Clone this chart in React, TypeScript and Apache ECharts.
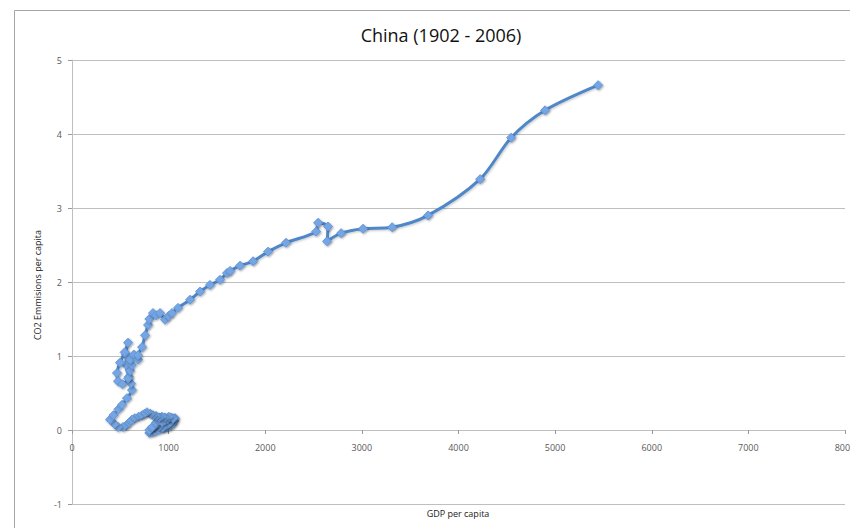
import React, { useEffect, useRef } from "react";
import * as echarts from "echarts";

// GDP per capita (x) and CO2 emissions per capita (y), China 1902 - 2006
const gdpPerCapita: number[] = [
  800, 830, 860, 900, 940, 980, 1010, 1040, 1060, 1066,
  1040, 1010, 980, 950, 932, 900, 880, 850, 820, 800,
  830, 870, 900, 932, 960, 990, 1020, 1045, 1000, 960,
  930, 900, 870, 838, 810, 776, 750, 725, 690, 650,
  621, 590, 560, 528, 476, 440, 393,
  430, 480, 518, 569, 621, 610, 590, 560, 560, 580,
  545, 497, 466, 476, 520, 580, 600, 620, 600, 640,
  683, 683, 725, 756, 787, 800, 838, 870, 911, 963,
  1000, 1035, 1097,
  1222, 1325, 1428, 1532, 1604, 1636, 1739, 1874, 2029, 2215,
  2526, 2547, 2650, 2640, 2785, 3012, 3313, 3685, 4224, 4545,
  4896, 5445,
];
const co2PerCapita: number[] = [
  -0.04, -0.03, -0.02, 0.0, 0.02, 0.03, 0.05, 0.08, 0.12, 0.16,
  0.14, 0.1, 0.06, 0.04, 0.03, 0.05, 0.08, 0.05, 0.02, 0.0,
  0.04, 0.1, 0.13, 0.11, 0.13, 0.15, 0.17, 0.16, 0.18, 0.17,
  0.18, 0.17, 0.19, 0.2, 0.22, 0.24, 0.22, 0.2, 0.18, 0.16,
  0.14, 0.1, 0.06, 0.04, 0.04, 0.08, 0.14,
  0.2, 0.28, 0.34, 0.43, 0.54, 0.63, 0.72, 0.88, 1.02, 1.18,
  1.05, 0.91, 0.77, 0.66, 0.62, 0.7, 0.8, 0.88, 0.95, 1.02,
  0.95, 1.01, 1.12, 1.28, 1.42, 1.5, 1.58, 1.55, 1.58, 1.49,
  1.54, 1.58, 1.65,
  1.76, 1.87, 1.96, 2.03, 2.12, 2.15, 2.22, 2.28, 2.41, 2.53,
  2.68, 2.8, 2.75, 2.55, 2.66, 2.72, 2.74, 2.9, 3.39, 3.95,
  4.32, 4.66,
];

const titleText = "China (1902 - 2006)";
const xAxisName = "GDP per capita";
const yAxisName = "CO2 Emmisions per capita";
const xRange = [0, 8000, 1000];
const yRange = [-1, 5, 1];

const FONT = "'Open Sans', 'Liberation Sans', sans-serif";

export default function App() {
  const ref = useRef<HTMLDivElement>(null);
  useEffect(() => {
    if (!ref.current) return;
    const chart = echarts.init(ref.current, undefined, { renderer: "svg" });
    const points = gdpPerCapita.map((g, i) => [g, co2PerCapita[i]]);
    const gridTop = 60;
    const gridBottom = 24;
    const plotHeight = 528 - gridTop - gridBottom;
    // distance from the bottom of the plot to the value 0
    const zeroOffset = (plotHeight * (0 - yRange[0])) / (yRange[1] - yRange[0]);
    chart.setOption({
      animation: false,
      backgroundColor: "#ffffff",
      grid: {
        left: 72,
        right: 5,
        top: gridTop,
        bottom: gridBottom,
        containLabel: false,
        outerBoundsMode: "none",
      },
      xAxis: {
        type: "value",
        min: xRange[0],
        max: xRange[1],
        interval: xRange[2],
        position: "bottom",
        offset: -zeroOffset,
        axisLine: { show: true, onZero: false, lineStyle: { color: "#bfbfbf", width: 1 } },
        axisTick: { show: true, length: 4, lineStyle: { color: "#9a9a9a" } },
        axisLabel: {
          fontSize: 9,
          color: "#595959",
          margin: 13,
          fontFamily: FONT,
          formatter: (v: number) => String(v),
        },
        splitLine: { show: false },
      },
      yAxis: {
        type: "value",
        min: yRange[0],
        max: yRange[1],
        interval: yRange[2],
        axisLine: { show: true, lineStyle: { color: "#bfbfbf", width: 1 } },
        axisTick: { show: true, length: 4, lineStyle: { color: "#9a9a9a" } },
        axisLabel: {
          fontSize: 9,
          color: "#595959",
          margin: 10,
          fontFamily: FONT,
          formatter: (v: number) => String(v),
        },
        splitLine: { show: true, lineStyle: { color: "#bfbfbf", width: 1 } },
      },
      graphic: [
        {
          type: "polyline",
          silent: true,
          shape: { points: [[14.5, 528], [14.5, 10.5], [850, 10.5]] },
          style: { stroke: "#a6a6a6", fill: "none", lineWidth: 1 },
        },
        {
          type: "text",
          x: 441,
          y: 35,
          style: {
            text: titleText,
            fontSize: 18,
            fontFamily: FONT,
            fill: "#111111",
            align: "center",
            verticalAlign: "middle",
          },
        },
        {
          type: "text",
          x: 458,
          y: 513,
          style: {
            text: xAxisName,
            fontSize: 9,
            fontFamily: FONT,
            fill: "#222222",
            align: "center",
            verticalAlign: "middle",
          },
        },
        {
          type: "text",
          x: 37,
          y: 285,
          rotation: Math.PI / 2,
          style: {
            text: yAxisName,
            fontSize: 9,
            fontFamily: FONT,
            fill: "#222222",
            align: "center",
            verticalAlign: "middle",
          },
        },
      ],
      series: [
        {
          type: "line",
          data: points,
          smooth: 0.3,
          symbol: "diamond",
          symbolSize: 9,
          showAllSymbol: true,
          lineStyle: {
            color: "#4f87c8",
            width: 3,
            shadowColor: "rgba(0,0,0,0.22)",
            shadowBlur: 2,
            shadowOffsetX: 1,
            shadowOffsetY: 1,
          },
          itemStyle: {
            color: "#74a5e2",
            borderColor: "#6397d9",
            borderWidth: 1,
            shadowColor: "rgba(0,0,0,0.35)",
            shadowBlur: 2,
            shadowOffsetX: 1,
            shadowOffsetY: 1,
          },
          z: 3,
        },
      ],
    });
    return () => chart.dispose();
  }, []);
  return (
    <div
      ref={ref}
      style={{ position: "fixed", left: 0, top: 0, width: 850, height: 528 }}
    />
  );
}
